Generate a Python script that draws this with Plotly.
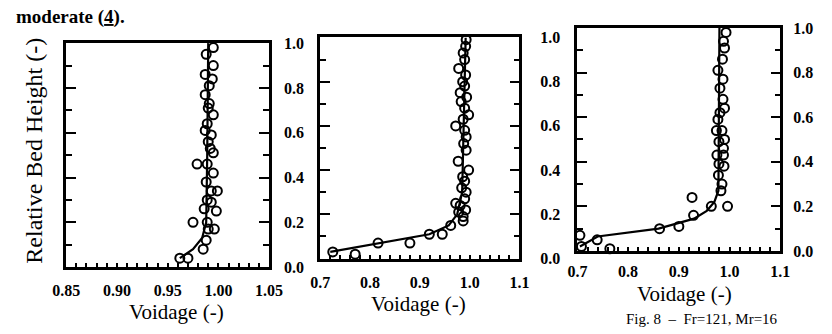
import plotly.graph_objects as go

W, H = 832, 334

# ---------------- data ----------------
# Panel 1 : voidage 0.85 - 1.05
p1_void = [0.995, 0.988, 0.995, 0.987, 0.991, 0.987, 0.991, 0.995, 0.989, 0.987,
           0.993, 0.990, 0.995, 0.979, 0.989, 0.995, 0.988, 0.999, 0.993, 0.989,
           0.993, 0.998, 0.975, 0.989, 0.996, 0.990, 0.988, 0.985, 0.970, 0.962,
           0.992, 0.990, 0.994, 0.986]
p1_h    = [0.98, 0.95, 0.90, 0.86, 0.81, 0.77, 0.73, 0.68, 0.64, 0.61,
           0.59, 0.56, 0.51, 0.46, 0.46, 0.42, 0.38, 0.34, 0.34, 0.30,
           0.29, 0.25, 0.20, 0.20, 0.17, 0.17, 0.12, 0.08, 0.04, 0.04,
           0.53, 0.71, 0.84, 0.26]
p1_fit_void = [0.962, 0.975, 0.984, 0.988, 0.989, 0.990]
p1_fit_h    = [0.04, 0.08, 0.13, 0.20, 0.50, 1.00]

# Panel 2 : voidage 0.7 - 1.1
p2_void = [0.725, 0.770, 0.816, 0.880, 0.919, 0.945, 0.962, 0.972, 0.987, 0.978,
           0.993, 0.992, 0.987, 0.990, 0.978, 0.992, 0.986, 0.990, 0.981, 0.994,
           0.983, 0.990, 0.998, 0.987, 0.972, 0.990, 0.993, 0.988, 0.977, 0.993,
           0.998, 0.986, 0.990, 0.984, 0.993, 0.990, 0.992, 0.987, 0.981]
p2_h    = [0.03, 0.02, 0.07, 0.07, 0.11, 0.11, 0.15, 0.25, 0.17, 0.21,
           0.99, 0.96, 0.93, 0.90, 0.86, 0.83, 0.80, 0.78, 0.75, 0.73,
           0.71, 0.68, 0.65, 0.63, 0.60, 0.58, 0.55, 0.52, 0.44, 0.49,
           0.40, 0.37, 0.35, 0.32, 0.30, 0.27, 0.22, 0.19, 0.24]
p2_fit_void = [0.720, 0.816, 0.919, 0.958, 0.975, 0.985, 0.988, 0.992]
p2_fit_h    = [0.03, 0.07, 0.11, 0.15, 0.20, 0.30, 0.60, 1.00]

# Panel 3 : voidage 0.7 - 1.1
p3_void = [0.705, 0.739, 0.764, 0.862, 0.900, 0.929, 0.926, 0.964, 0.996, 0.708,
           0.993, 0.988, 0.990, 0.986, 0.977, 0.987, 0.981, 0.987, 0.990, 0.977,
           0.974, 0.985, 0.979, 0.990, 0.975, 0.988, 0.979, 0.989, 0.978, 0.985,
           0.983, 0.988, 0.981]
p3_h    = [0.07, 0.05, 0.01, 0.10, 0.11, 0.16, 0.24, 0.20, 0.20, 0.02,
           0.98, 0.94, 0.91, 0.86, 0.81, 0.77, 0.73, 0.68, 0.64, 0.59,
           0.54, 0.54, 0.49, 0.50, 0.43, 0.43, 0.39, 0.38, 0.34, 0.30,
           0.27, 0.46, 0.62]
p3_fit_void = [0.705, 0.740, 0.860, 0.930, 0.955, 0.970, 0.978, 0.980]
p3_fit_h    = [0.02, 0.065, 0.10, 0.145, 0.18, 0.22, 0.27, 1.00]

x_ranges = [[0.85, 1.05], [0.7, 1.1], [0.7, 1.1]]
x_dticks = [0.05, 0.1, 0.1]
x_minor = [0.01, 0.02, 0.02]
x_fmt = [".2f", ".1f", ".1f"]
y_ticks = [0.0, 0.2, 0.4, 0.6, 0.8, 1.0]

# ---------------- layout geometry (pixels) ----------------
boxes = [  # left, right, top(y=1), bottom(y=0)
    (54, 264, 37, 273),
    (317, 523, 31, 264),
    (583, 793, 21, 256),
]
y_standoff = [9, 15, 7]
x_standoff = [7, 7, 4]

def fx(px):
    return px / W

def fy(py):
    return 1 - py / H

FONT = "Liberation Serif"
TICKFONT = dict(family=FONT, size=16, color="black", weight="bold")

fig = go.Figure()
series = [(p1_void, p1_h, p1_fit_void, p1_fit_h),
          (p2_void, p2_h, p2_fit_void, p2_fit_h),
          (p3_void, p3_h, p3_fit_void, p3_fit_h)]

layout = {}
for i, (vx, vy, fxv, fyv) in enumerate(series):
    n = "" if i == 0 else str(i + 1)
    xa, ya = "x" + n, "y" + n
    fig.add_trace(go.Scatter(x=fxv, y=fyv, mode="lines", xaxis=xa, yaxis=ya,
                             line=dict(color="black", width=2.2),
                             showlegend=False, cliponaxis=False))
    fig.add_trace(go.Scatter(x=vx, y=vy, mode="markers", xaxis=xa, yaxis=ya,
                             marker=dict(symbol="circle-open", size=9,
                                         color="black", line=dict(width=2)),
                             showlegend=False, cliponaxis=False))
    l, r, t, b = boxes[i]
    layout["xaxis" + n] = dict(
        domain=[fx(l), fx(r)], range=x_ranges[i], anchor=ya,
        dtick=x_dticks[i], tick0=0, tickformat=x_fmt[i],
        ticks="inside", ticklen=4, tickwidth=1.5, tickcolor="black",
        minor=dict(dtick=x_minor[i], tick0=0, ticks="inside", ticklen=4,
                   tickwidth=1.5, tickcolor="black"),
        showline=True, linecolor="black", linewidth=2.5, mirror=True,
        showgrid=False, zeroline=False, ticklabelstandoff=x_standoff[i],
        tickfont=TICKFONT,
    )
    layout["yaxis" + n] = dict(
        domain=[fy(b), fy(t)], range=[0, 1], anchor=xa, side="right",
        tickvals=y_ticks, tickformat=".1f",
        ticks="inside", ticklen=10, tickwidth=1.5, tickcolor="black",
        minor=dict(dtick=0.1, tick0=0, ticks="inside", ticklen=6,
                   tickwidth=1.5, tickcolor="black"),
        showline=True, linecolor="black", linewidth=2.5, mirror="ticks",
        showgrid=False, zeroline=False, ticklabelstandoff=y_standoff[i],
        tickfont=TICKFONT,
    )

title_pos = [(168, 320), (419, 312), (694, 301)]
annotations = []
for (cx, cy) in title_pos:
    annotations.append(dict(text="Voidage (-)", x=fx(cx), y=fy(cy),
                            xref="paper", yref="paper", showarrow=False,
                            xanchor="center", yanchor="middle", borderpad=0,
                            font=dict(family=FONT, size=21, color="black")))
annotations.append(dict(text="Relative Bed Height (-)", x=fx(21), y=fy(150),
                        xref="paper", yref="paper", showarrow=False,
                        textangle=-90, xanchor="center", yanchor="middle",
                        font=dict(family=FONT, size=24, color="black")))
annotations.append(dict(text="moderate (<u>4</u>).", x=fx(0), y=fy(10),
                        xref="paper", yref="paper", showarrow=False,
                        xanchor="left", yanchor="middle",
                        font=dict(family=FONT, size=19, color="black", weight="bold")))
annotations.append(dict(text="Fig. 8  \u2013  Fr=121, Mr=16", x=fx(632), y=fy(337),
                        xref="paper", yref="paper", showarrow=False,
                        xanchor="left", yanchor="bottom", borderpad=0,
                        font=dict(family=FONT, size=15, color="black")))

fig.update_layout(
    width=W, height=H, margin=dict(l=0, r=0, t=0, b=0),
    paper_bgcolor="white", plot_bgcolor="white",
    annotations=annotations, **layout,
)

fig.write_html("out.html", config={"displayModeBar": False})
